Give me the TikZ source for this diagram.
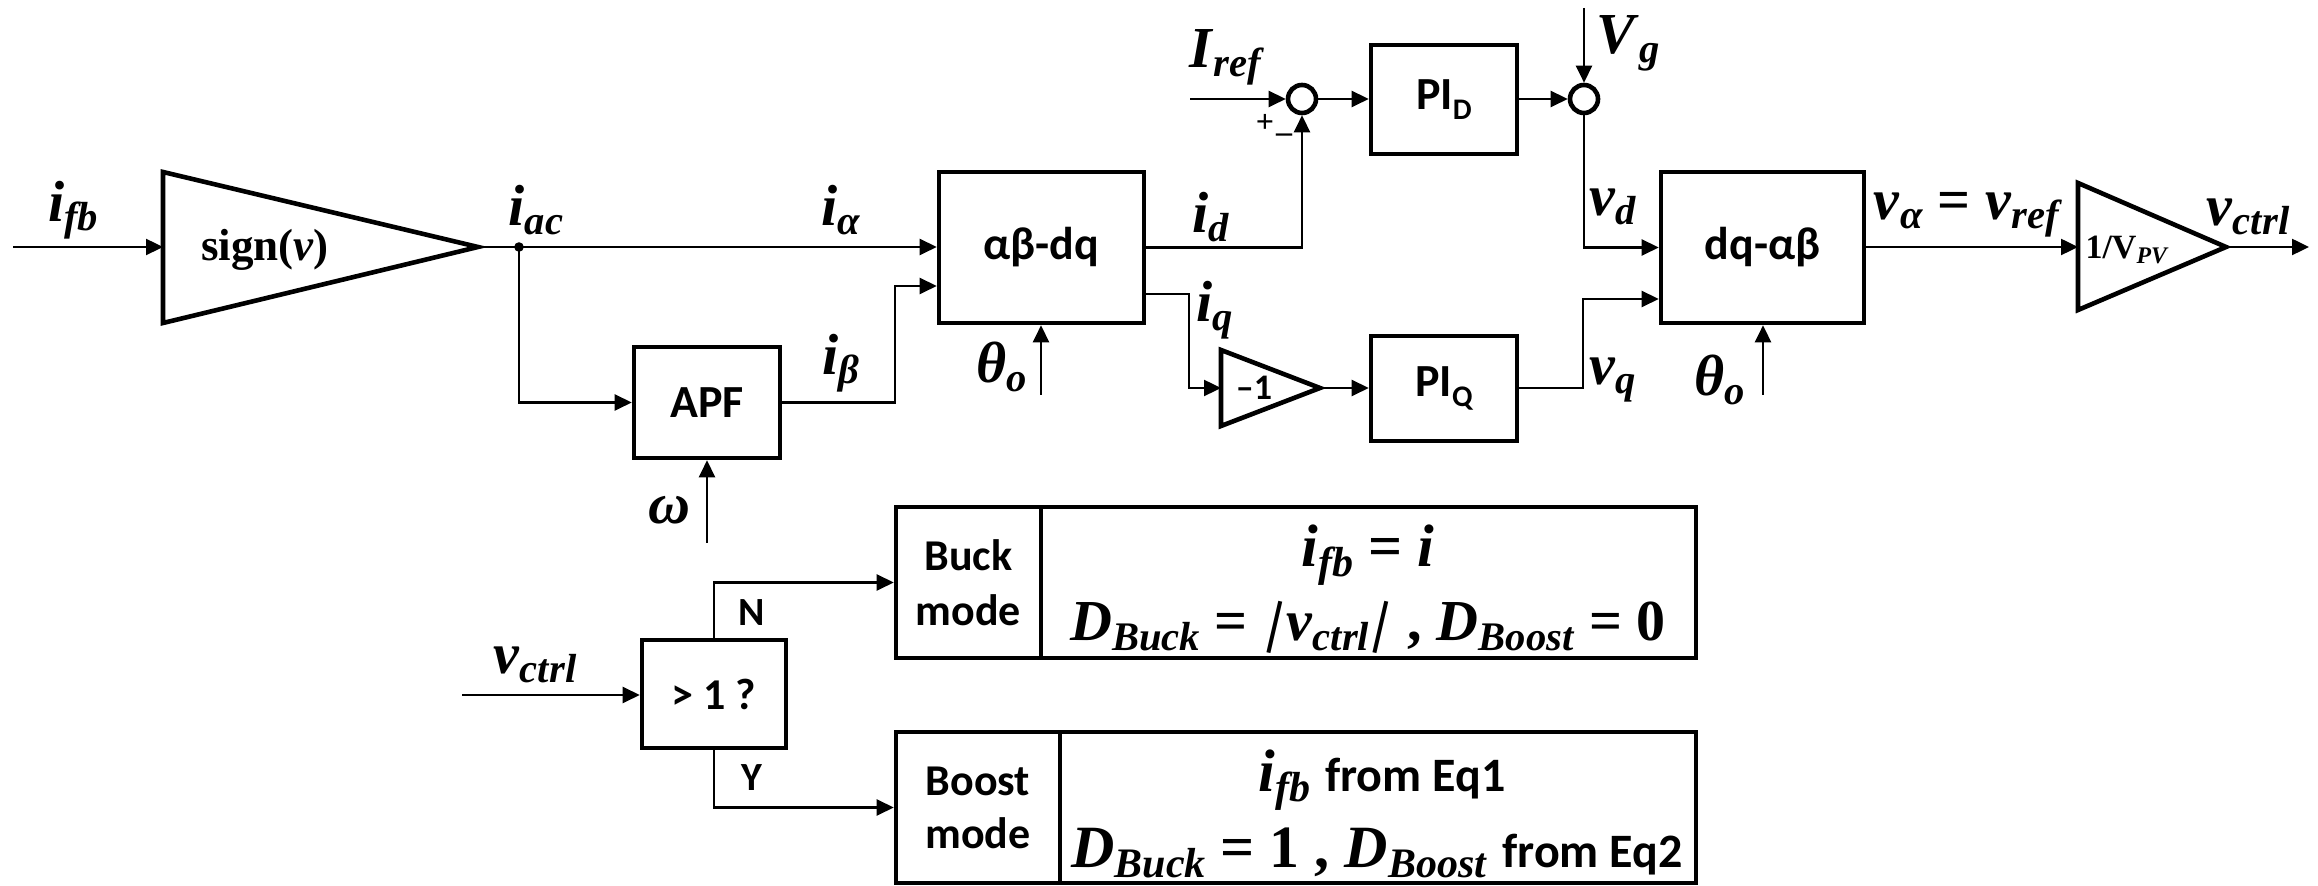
\documentclass[tikz,border=0pt]{standalone}
\usepackage{fontspec}
\setmainfont{Liberation Serif}
\newfontfamily\calf{Carlito}
\usepackage{graphicx}
\usetikzlibrary{arrows.meta}
\newcommand\mv[1]{\textbf{\textit{#1}}}
\newcommand\sbt[1]{\raisebox{-0.16em}{\scalebox{0.7}{#1}}}
\newcommand\fs[1]{\fontsize{#1}{#1}\selectfont}
\newcommand\sbar{\rotatebox[origin=c]{-13}{\textbf{|}}}
\tikzset{
  blk/.style={draw, line width=2.3pt, inner sep=0pt, font=\calf\bfseries\fs{23pt}},
  wire/.style={line width=1.2pt},
  arr/.style={wire, -{Triangle[length=8.5pt,width=8pt]}},
  lbl/.style={inner sep=0pt, font=\fs{29pt}},
  eq/.style={inner sep=0pt, font=\fs{30pt}},
  tri/.style={draw, line width=2.3pt, line join=miter},
  sumc/.style={draw, circle, line width=2.3pt, minimum size=14pt, inner sep=0pt},
  cal/.style={inner sep=0pt, font=\calf\bfseries\fs{20pt}},
}
\begin{document}
\begin{tikzpicture}[x=0.5pt,y=-0.5pt]
\useasboundingbox (0,0) rectangle (2318,886);
% ---- blocks
\node[blk, minimum width=102.5pt, minimum height=75.5pt] (ab) at (1041.5,247.5) {αβ-dq};
\node[blk, minimum width=73pt, minimum height=55.5pt] (apf) at (707,402.5) {APF};
\node[blk, minimum width=73pt, minimum height=54.5pt] (pid) at (1444,99.5) {PI\raisebox{-0.2em}{\scalebox{0.65}{D}}};
\node[blk, minimum width=73pt, minimum height=52.5pt] (piq) at (1444,388.5) {PI\raisebox{-0.2em}{\scalebox{0.65}{Q}}};
\node[blk, minimum width=101.5pt, minimum height=75.5pt] (dqab) at (1762.5,247.5) {dq-αβ};
\node[blk, minimum width=72pt, minimum height=54pt, font=\calf\bfseries\fs{22pt}] (cmp) at (714,694) {> 1 ?};
\node[blk, minimum width=72.5pt, minimum height=75.5pt, align=center, font=\calf\bfseries\fontsize{22pt}{27.5pt}\selectfont] (buckm) at (968.5,582.5) {Buck\\mode};
\node[blk, minimum width=327.5pt, minimum height=75.5pt] (bucke) at (1368.5,582.5) {};
\node[blk, minimum width=82pt, minimum height=75.5pt, align=center, font=\calf\bfseries\fontsize{22pt}{26.5pt}\selectfont] (boostm) at (978,807.5) {Boost\\mode};
\node[blk, minimum width=318pt, minimum height=75.5pt] (booste) at (1378,807.5) {};
\node[sumc] (s1) at (1302,99) {};
\node[sumc] (s2) at (1584,99) {};
% ---- triangles
\draw[tri] (163,172) -- (478,247) -- (163,323) -- cycle;
\coordinate (sgnin) at (163,247);
\coordinate (sgnout) at (478,247);
\node[inner sep=0pt, font=\fs{22.5pt}] (tsign) at (265,250) {\textbf{sign(}\mv{v}\textbf{)}};
\draw[tri] (1221,350) -- (1320,388) -- (1221,426) -- cycle;
\coordinate (negin) at (1221,388);
\coordinate (negout) at (1320,388);
\node[inner sep=0pt, font=\calf\bfseries\fs{18pt}] (tneg) at (1254,388) {–1};
\draw[tri] (2078,183) -- (2226,247) -- (2078,310) -- cycle;
\coordinate (vpvin) at (2078,247);
\coordinate (vpvout) at (2226,247);
\node[inner sep=0pt, font=\fs{17pt}] (tvpv) at (2127,250) {\textbf{1/V}\sbt{\mv{PV}}};
% ---- coordinates
\coordinate (ifbin) at (13,247);
\coordinate (jn) at (519,247);
\coordinate (ibk) at (895,286);
\coordinate (win) at (707,543);
\coordinate (th1) at (1041,395);
\coordinate (iref) at (1190,99);
\coordinate (vg) at (1584,8);
\coordinate (iqk) at (1189,294);
\coordinate (vqk) at (1583,299);
\coordinate (th2) at (1763,395);
\coordinate (vout) at (2309,247);
\coordinate (vcin) at (462,695);
% ---- connectors
\draw[arr] (ifbin) -- (sgnin);
\draw[wire] (sgnout) -- (jn);
\fill (jn) circle (2.4pt);
\draw[arr] (jn) -- (jn -| ab.west);
\draw[arr] (jn) |- (apf.west);
\draw[arr] (apf.east) -| (ibk) -- (ibk -| ab.west);
\draw[arr] (win) -- (apf.south);
\draw[arr] (th1) -- (th1 |- ab.south);
\draw[arr] (ab.east) -| (s1.south);
\draw[arr] (iref) -- (s1.west);
\draw[arr] (s1.east) -- (s1.east -| pid.west);
\draw[arr] (pid.east |- s2) -- (s2.west);
\draw[arr] (vg) -- (s2.north);
\draw[arr] (s2.south) |- (dqab.west);
\draw[arr] (ab.east |- iqk) -- (iqk) |- (negin);
\draw[arr] (negout) -- (negout -| piq.west);
\draw[arr] (piq.east |- negout) -| (vqk) -- (vqk -| dqab.west);
\draw[arr] (th2) -- (th2 |- dqab.south);
\draw[arr] (dqab.east |- vpvin) -- (vpvin);
\draw[arr] (vpvout) -- (vout);
\draw[arr] (vcin) -- (vcin -| cmp.west);
\draw[arr] (cmp.north) |- (buckm.west);
\draw[arr] (cmp.south) |- (boostm.west);
% ---- labels
\node[lbl] (lifb) at (73,210) {\mv{i}\sbt{\mv{fb}}};
\node[lbl] (liac) at (536,210) {\mv{i}\sbt{\mv{ac}}};
\node[lbl] (lia) at (841,210) {\mv{i}\sbt{\mv{α}}};
\node[lbl] (lib) at (841,363) {\mv{i}\sbt{\mv{β}}};
\node[lbl] (lw) at (669,510) {\mv{ω}};
\node[lbl] (lth1) at (1002,367) {\mv{θ}\sbt{\mv{o}}};
\node[lbl] (lid) at (1211,217) {\mv{i}\sbt{\mv{d}}};
\node[lbl] (liref) at (1227,57) {\mv{I}\sbt{\mv{ref}}};
\node[inner sep=0pt, font=\bfseries\fs{16pt}] (lplus) at (1265,123) {+};
\node[inner sep=0pt, font=\bfseries\fs{16pt}] (lminus) at (1284,138) {–};
\node[lbl] (lvg) at (1628,43) {\mv{V}\sbt{\mv{g}}};
\node[lbl] (lvd) at (1613,207) {\mv{v}\sbt{\mv{d}}};
\node[lbl] (liq) at (1215,310) {\mv{i}\sbt{\mv{q}}};
\node[lbl] (lvq) at (1613,380) {\mv{v}\sbt{\mv{q}}};
\node[lbl] (lth2) at (1720,380) {\mv{θ}\sbt{\mv{o}}};
\node[lbl] (lvref) at (1968,215) {\mv{v}\sbt{\mv{α}} \textbf{=} \mv{v}\sbt{\mv{ref}}};
\node[lbl] (lvctrl) at (2248,217) {\mv{v}\sbt{\mv{ctrl}}};
\node[lbl] (lvc2) at (535,665) {\mv{v}\sbt{\mv{ctrl}}};
\node[cal] (lN) at (752,613) {N};
\node[cal] (lY) at (752,778) {Y};
\node[eq] (e1) at (1368,555) {\mv{i}\sbt{\mv{fb}} \textbf{=} \mv{i}};
\node[eq, font=\fs{29pt}] (e2) at (1368,627) {\mv{D}\sbt{\mv{Buck}} \textbf{=} \sbar\mv{v}\sbt{\mv{ctrl}}\sbar{} \textbf{,} \mv{D}\sbt{\mv{Boost}} \textbf{= 0}};
\node[eq] (e3) at (1382,780) {\mv{i}\sbt{\mv{fb}} {\calf\bfseries\fs{24pt}from Eq1}};
\node[eq] (e4) at (1377,853) {\mv{D}\sbt{\mv{Buck}} \textbf{= 1 ,} \mv{D}\sbt{\mv{Boost}} {\calf\bfseries\fs{24pt}from Eq2}};
\end{tikzpicture}
\end{document}
